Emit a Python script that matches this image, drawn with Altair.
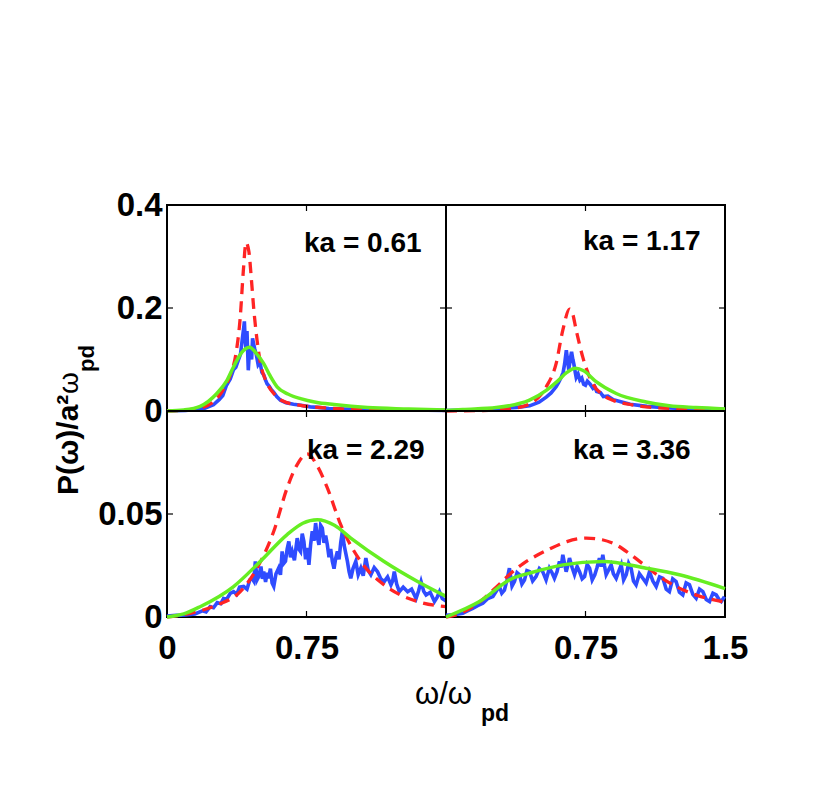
import altair as alt
import pandas as pd

BLUE = "#2f4cff"
RED = "#ff2424"
GREEN = "#66ee22"
FONT = "Liberation Sans"

# ---------------- data ----------------
labels = ["ka = 0.61", "ka = 1.17", "ka = 2.29", "ka = 3.36"]

# panel 1 : ka = 0.61
blue_1 = [[0, 0.0], [0.1, 0.001], [0.2, 0.005], [0.25, 0.012], [0.28, 0.022], [0.3, 0.03],
          [0.32, 0.05], [0.34, 0.062], [0.357, 0.08], [0.37, 0.085], [0.385, 0.1], [0.395, 0.11],
          [0.405, 0.14], [0.412, 0.16], [0.416, 0.174], [0.42, 0.14], [0.425, 0.12], [0.43, 0.155],
          [0.437, 0.079], [0.442, 0.11], [0.448, 0.12], [0.455, 0.1], [0.46, 0.141], [0.466, 0.13],
          [0.472, 0.12], [0.48, 0.11], [0.49, 0.09], [0.5, 0.095], [0.51, 0.075], [0.52, 0.07],
          [0.53, 0.06], [0.538, 0.053], [0.55, 0.048], [0.56, 0.042], [0.574, 0.036], [0.59, 0.028],
          [0.61, 0.021], [0.64, 0.016], [0.68, 0.013], [0.72, 0.011], [0.77, 0.008], [0.81, 0.007],
          [0.87, 0.005], [0.95, 0.004], [1.05, 0.003], [1.15, 0.002], [1.3, 0.002], [1.5, 0.001]]
red_1 = [[0, 0.0], [0.1, 0.002], [0.18, 0.006], [0.25, 0.018], [0.3, 0.04], [0.34, 0.07],
         [0.37, 0.11], [0.394, 0.183], [0.41, 0.27], [0.425, 0.327], [0.44, 0.31], [0.455, 0.25],
         [0.466, 0.2], [0.484, 0.138], [0.503, 0.092], [0.53, 0.06], [0.574, 0.034], [0.62, 0.02],
         [0.718, 0.011], [0.85, 0.006], [1.0, 0.003], [1.2, 0.002], [1.5, 0.001]]
green_1 = [[0, 0.0], [0.09, 0.002], [0.178, 0.009], [0.268, 0.034], [0.32, 0.058], [0.358, 0.086],
           [0.4, 0.113], [0.444, 0.124], [0.48, 0.112], [0.52, 0.092], [0.555, 0.068], [0.592, 0.047],
           [0.65, 0.033], [0.718, 0.024], [0.8, 0.017], [0.898, 0.0125], [1.078, 0.0066],
           [1.3, 0.004], [1.5, 0.002]]

# panel 2 : ka = 1.17
blue_2 = [[0, 0.001], [0.1, 0.002], [0.2, 0.003], [0.3, 0.005], [0.38, 0.007], [0.45, 0.01],
          [0.5, 0.017], [0.539, 0.027], [0.565, 0.035], [0.592, 0.047], [0.605, 0.055], [0.62, 0.066],
          [0.63, 0.075], [0.638, 0.092], [0.647, 0.118], [0.653, 0.1], [0.66, 0.08], [0.668, 0.1],
          [0.675, 0.115], [0.682, 0.1], [0.688, 0.09], [0.695, 0.075], [0.7, 0.065], [0.71, 0.072],
          [0.72, 0.06], [0.73, 0.064], [0.74, 0.052], [0.75, 0.05], [0.76, 0.058], [0.775, 0.052],
          [0.79, 0.044], [0.8, 0.047], [0.81, 0.038], [0.83, 0.036], [0.846, 0.028], [0.87, 0.029],
          [0.9, 0.022], [0.94, 0.018], [0.99, 0.013], [1.08, 0.009], [1.2, 0.006], [1.35, 0.004],
          [1.5, 0.003]]
red_2 = [[0, 0.0], [0.2, 0.001], [0.36, 0.005], [0.449, 0.014], [0.539, 0.047], [0.592, 0.092],
         [0.628, 0.157], [0.664, 0.198], [0.68, 0.19], [0.7, 0.157], [0.735, 0.105], [0.789, 0.053],
         [0.84, 0.032], [0.897, 0.021], [1.0, 0.012], [1.076, 0.008], [1.3, 0.004], [1.5, 0.003]]
green_2 = [[0, 0.001], [0.09, 0.003], [0.27, 0.0066], [0.449, 0.021], [0.539, 0.04], [0.6, 0.058],
           [0.65, 0.075], [0.696, 0.083], [0.74, 0.078], [0.807, 0.057], [0.915, 0.034],
           [1.076, 0.0176], [1.2, 0.01], [1.345, 0.0066], [1.5, 0.004]]

# panel 3 : ka = 2.29
blue_3 = [[0, 0.0005], [0.05, 0.0008], [0.1, 0.001], [0.15, 0.0015], [0.19, 0.003], [0.21, 0.0025],
          [0.232, 0.005], [0.25, 0.0045], [0.27, 0.007], [0.29, 0.0065], [0.304, 0.009],
          [0.32, 0.0085], [0.34, 0.0115], [0.358, 0.0123], [0.375, 0.011], [0.39, 0.0145],
          [0.412, 0.0148], [0.43, 0.0135], [0.445, 0.018], [0.457, 0.0188], [0.466, 0.0175],
          [0.475, 0.027], [0.484, 0.018], [0.493, 0.0196], [0.505, 0.0245], [0.513, 0.0185],
          [0.52, 0.022], [0.53, 0.017], [0.538, 0.0215], [0.546, 0.0188], [0.556, 0.0235],
          [0.565, 0.0165], [0.574, 0.0148], [0.586, 0.021], [0.6, 0.0237], [0.61, 0.0205],
          [0.619, 0.0318], [0.628, 0.026], [0.637, 0.027], [0.646, 0.033], [0.655, 0.0367],
          [0.664, 0.029], [0.673, 0.0318], [0.685, 0.0275], [0.7, 0.0383], [0.709, 0.033],
          [0.718, 0.0318], [0.727, 0.0405], [0.736, 0.0367], [0.745, 0.028], [0.754, 0.0335],
          [0.763, 0.0253], [0.772, 0.035], [0.781, 0.0416], [0.79, 0.037], [0.799, 0.0456],
          [0.808, 0.039], [0.817, 0.035], [0.826, 0.0445], [0.835, 0.0432], [0.844, 0.036],
          [0.853, 0.0395], [0.862, 0.035], [0.871, 0.029], [0.88, 0.033], [0.889, 0.027],
          [0.898, 0.0235], [0.907, 0.0285], [0.916, 0.0318], [0.925, 0.028], [0.934, 0.036],
          [0.943, 0.0416], [0.952, 0.035], [0.961, 0.031], [0.97, 0.027], [0.979, 0.022],
          [0.988, 0.0188], [1.0, 0.0235], [1.015, 0.027], [1.028, 0.0205], [1.042, 0.0237],
          [1.055, 0.02], [1.069, 0.0286], [1.082, 0.0225], [1.096, 0.0205], [1.114, 0.024],
          [1.132, 0.022], [1.15, 0.0185], [1.168, 0.0172], [1.186, 0.0195], [1.204, 0.0156],
          [1.213, 0.0175], [1.222, 0.022], [1.235, 0.016], [1.249, 0.0123], [1.27, 0.0145],
          [1.294, 0.0123], [1.315, 0.0135], [1.339, 0.009], [1.352, 0.0125], [1.366, 0.0172],
          [1.38, 0.0125], [1.393, 0.0107], [1.415, 0.012], [1.438, 0.0075], [1.452, 0.0095],
          [1.465, 0.0123], [1.48, 0.009], [1.5, 0.0078]]
red_3 = [[0, 0.0], [0.124, 0.0018], [0.268, 0.0058], [0.394, 0.0123], [0.484, 0.0237],
         [0.574, 0.0416], [0.646, 0.0627], [0.7, 0.074], [0.754, 0.0792], [0.81, 0.073],
         [0.862, 0.0627], [0.934, 0.0448], [1.042, 0.0269], [1.167, 0.0156], [1.347, 0.0075],
         [1.5, 0.005]]
green_3 = [[0, 0.0], [0.09, 0.0015], [0.178, 0.005], [0.358, 0.0148], [0.502, 0.027], [0.646, 0.04],
           [0.73, 0.0455], [0.808, 0.0472], [0.9, 0.0445], [0.988, 0.0383], [1.167, 0.0269],
           [1.347, 0.0172], [1.5, 0.01]]

# panel 4 : ka = 3.36
blue_4 = [[0.0, 0.0008], [0.019, 0.001], [0.05, 0.0012], [0.09, 0.0018], [0.115, 0.003],
          [0.144, 0.0042], [0.17, 0.0055], [0.198, 0.0067], [0.225, 0.009], [0.252, 0.0099],
          [0.27, 0.0125], [0.287, 0.0148], [0.3, 0.0115], [0.314, 0.013], [0.328, 0.018],
          [0.341, 0.0237], [0.355, 0.015], [0.368, 0.0172], [0.382, 0.0215], [0.395, 0.0205],
          [0.408, 0.016], [0.422, 0.018], [0.435, 0.0225], [0.449, 0.022], [0.466, 0.0175],
          [0.484, 0.0196], [0.502, 0.0235], [0.52, 0.022], [0.538, 0.018], [0.556, 0.0237],
          [0.57, 0.0215], [0.583, 0.0188], [0.597, 0.022], [0.61, 0.027], [0.619, 0.024],
          [0.628, 0.0302], [0.637, 0.026], [0.646, 0.022], [0.655, 0.025], [0.664, 0.0286],
          [0.678, 0.024], [0.691, 0.0205], [0.705, 0.0245], [0.718, 0.022], [0.732, 0.0185],
          [0.745, 0.0196], [0.759, 0.0255], [0.772, 0.0237], [0.786, 0.018], [0.8, 0.0205],
          [0.812, 0.024], [0.825, 0.0286], [0.834, 0.0245], [0.843, 0.0302], [0.852, 0.025],
          [0.861, 0.0205], [0.875, 0.023], [0.888, 0.0253], [0.9, 0.021], [0.915, 0.0188],
          [0.928, 0.022], [0.942, 0.0253], [0.955, 0.018], [0.969, 0.0205], [0.982, 0.026],
          [0.995, 0.0237], [1.008, 0.0175], [1.022, 0.0156], [1.04, 0.021], [1.058, 0.0188],
          [1.076, 0.0165], [1.094, 0.022], [1.112, 0.0175], [1.13, 0.0148], [1.148, 0.0195],
          [1.166, 0.0188], [1.184, 0.0135], [1.201, 0.0123], [1.219, 0.0185], [1.237, 0.0172],
          [1.255, 0.012], [1.273, 0.0107], [1.291, 0.0165], [1.309, 0.0156], [1.327, 0.011],
          [1.345, 0.0091], [1.363, 0.0135], [1.381, 0.0123], [1.399, 0.0085], [1.417, 0.0075],
          [1.435, 0.0115], [1.453, 0.0107], [1.468, 0.0085], [1.48, 0.0075], [1.497, 0.0099]]
red_4 = [[0, 0.0], [0.07, 0.0015], [0.144, 0.005], [0.21, 0.0095], [0.27, 0.0145], [0.34, 0.0205],
         [0.413, 0.0258], [0.48, 0.0295], [0.556, 0.033], [0.65, 0.0366], [0.754, 0.0383],
         [0.84, 0.0375], [0.915, 0.035], [0.99, 0.0305], [1.058, 0.0258], [1.15, 0.0195],
         [1.237, 0.0148], [1.35, 0.0105], [1.5, 0.0072]]
green_4 = [[0, 0.0], [0.18, 0.0075], [0.36, 0.0189], [0.449, 0.0213], [0.628, 0.0253],
           [0.843, 0.027], [1.076, 0.0237], [1.255, 0.0205], [1.5, 0.0138]]

x_ticks = [0.75]

# ---------------- helpers ----------------
W, H = 279, 206
XDOM = [0, 1.5]


def frame(pairs, name):
    return pd.DataFrame({"x": [p[0] for p in pairs], "y": [p[1] for p in pairs], "s": name})


def label_axis(values, pad):
    return alt.Axis(values=values, format=".2~f", title=None, ticks=False, domain=False,
                    grid=False, labelFlush=False, labelOverlap=False, tickSize=0,
                    labelPadding=pad, labelFont=FONT, labelFontSize=33,
                    labelFontWeight="bold", labelColor="black")


def panel(blue, red, green, label, ymax, yvals, ytick, left, bottom, lab_x, lab_y, extra=None):
    xscale = alt.Scale(domain=XDOM, nice=False, zero=False)
    yscale = alt.Scale(domain=[0, ymax], nice=False)
    xaxis = label_axis(bottom, 15) if bottom is not None else None
    yaxis = label_axis(yvals, 5) if left else None
    X = alt.X("x:Q", scale=xscale, axis=xaxis)
    Y = alt.Y("y:Q", scale=yscale, axis=yaxis)

    lb = alt.Chart(frame(blue, "sim")).mark_line(color=BLUE, strokeWidth=3.6).encode(x=X, y=Y)
    lr = alt.Chart(frame(red, "red")).mark_line(
        color=RED, strokeWidth=3.3, strokeDash=[11, 7], interpolate="monotone").encode(x=X, y=Y)
    lg = alt.Chart(frame(green, "green")).mark_line(
        color=GREEN, strokeWidth=3.5, interpolate="monotone").encode(x=X, y=Y)
    txt = alt.Chart(pd.DataFrame({"t": [label]})).mark_text(
        align="left", baseline="middle", font=FONT, fontSize=28, fontWeight="bold",
        color="black").encode(x=alt.value(lab_x), y=alt.value(lab_y), text="t:N")

    xt = pd.DataFrame({"x": x_ticks})
    yt = pd.DataFrame({"y": [ytick]})
    tk = dict(color="black", strokeWidth=1.2)
    t1 = alt.Chart(xt).mark_rule(**tk).encode(x=X, y=alt.value(H), y2=alt.value(H - 6))
    t2 = alt.Chart(xt).mark_rule(**tk).encode(x=X, y=alt.value(0), y2=alt.value(6))
    t3 = alt.Chart(yt).mark_rule(**tk).encode(y=Y, x=alt.value(0), x2=alt.value(6))
    t4 = alt.Chart(yt).mark_rule(**tk).encode(y=Y, x=alt.value(W - 6), x2=alt.value(W))

    layers = [lb, lr, lg, t1, t2, t3, t4, txt]
    if extra:
        layers += extra
    return alt.layer(*layers).properties(width=W, height=H)


def piece(text, x, y, size, bold=True, angle=None):
    kw = dict(align="left", baseline="alphabetic", font=FONT, fontSize=size,
              fontWeight="bold" if bold else "normal", color="black")
    if angle is not None:
        kw["angle"] = angle
    return alt.Chart(pd.DataFrame({"t": [text]})).mark_text(**kw).encode(
        x=alt.value(x), y=alt.value(y), text="t:N")


# axis titles built from text pieces (sub/superscripts)
ytitle = [
    piece("P(ω)/a²", -89, 290, 30, True, 270),
    piece("ω", -89, 189, 28, False, 270),
    piece("pd", -73, 167, 22, True, 270),
]
xtitle = [
    piece("ω/ω", 248, 293, 31, False),
    piece("pd", 314, 310, 23, True),
]

p1 = panel(blue_1, red_1, green_1, labels[0], 0.4, [0, 0.2, 0.4], 0.2, True, None, 137, 39, ytitle)
p2 = panel(blue_2, red_2, green_2, labels[1], 0.4, [0, 0.2, 0.4], 0.2, False, None, 137, 37)
p3 = panel(blue_3, red_3, green_3, labels[2], 0.1, [0, 0.05], 0.05, True, [0, 0.75],
           140, 40, xtitle)
p4 = panel(blue_4, red_4, green_4, labels[3], 0.1, [0, 0.05], 0.05, False, [0, 0.75, 1.5],
           127, 40)

chart = alt.concat(p1, p2, p3, p4, columns=2, spacing=0, bounds="flush").properties(
    padding={"left": 45, "top": 180, "right": 10, "bottom": 10},
    background="white",
).configure_view(stroke="black", strokeWidth=2)

chart.save("out.html", embed_options={"renderer": "svg", "actions": False})
